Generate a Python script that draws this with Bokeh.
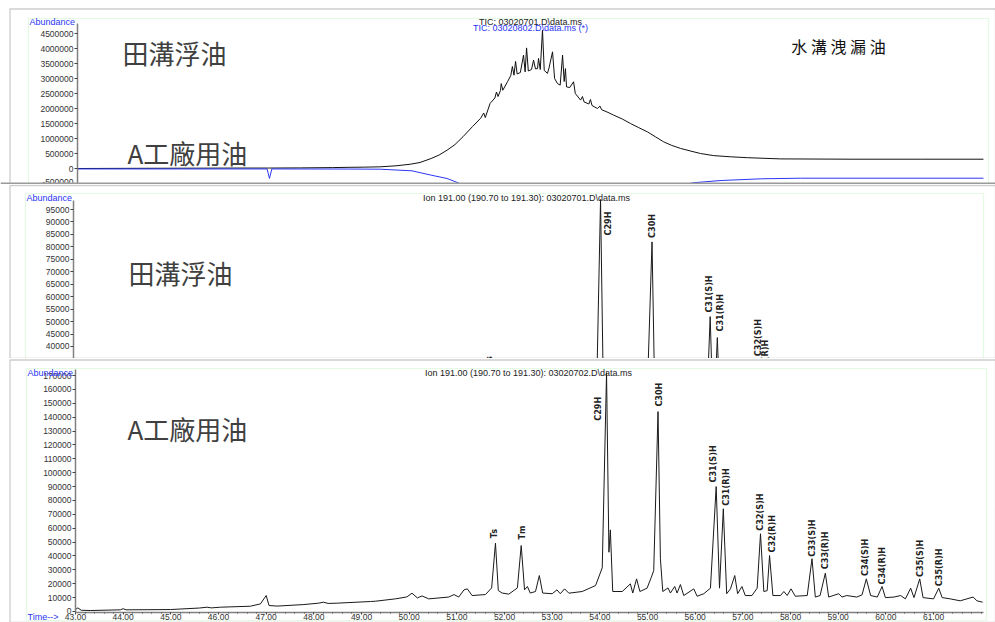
import numpy as np
from bokeh.plotting import figure
from bokeh.models import (LinearAxis, FixedTicker, NumeralTickFormatter, ColumnDataSource,
                          Label, Range1d, SingleIntervalTicker, BoxAnnotation, Span)
from bokeh.layouts import column
from bokeh.core.properties import value
from bokeh.embed import file_html
from bokeh.resources import INLINE

# ---------------- data ----------------
# Panel 1: total ion chromatograms (abundance in thousands)
tic_field_time = [5.0, 8.0, 12.0, 15.0, 17.0, 19.0, 21.0, 22.1, 23.0, 24.0, 25.0, 25.9, 26.5, 27.2,
                  27.7, 28.2, 28.7, 29.2, 29.8, 30.3, 30.5, 30.6, 30.9, 31.2, 31.3, 31.4, 31.55, 31.6,
                  31.7, 32.0, 32.2, 32.3, 32.4, 32.5, 32.6, 32.8, 33.0, 33.1, 33.19, 33.3, 33.5, 33.63,
                  33.75, 33.88, 33.94, 34.05, 34.19, 34.3, 34.5, 34.6, 34.82, 34.95, 35.13, 35.3, 35.45,
                  35.55, 35.63, 35.7, 35.9, 36.14, 36.25, 36.58, 36.7, 36.8, 37.1, 37.2, 37.3, 37.64,
                  37.8, 37.9, 38.3, 38.65, 39.2, 39.71, 40.2, 40.78, 41.3, 41.79, 42.3, 42.85, 43.5,
                  44.11, 44.92, 46.0, 47.06, 49.13, 53.5, 58.0, 61.87]
tic_field_k = [0, 5, 10, 15, 15, 20, 30, 40, 45, 56, 90, 143, 200, 333,
               450, 610, 800, 1060, 1400, 1670, 1850, 1700, 2170, 2350, 2550, 2400, 2600, 2830,
               2610, 2900, 3100, 3400, 3110, 3570, 3150, 3200, 3780, 3220, 4020, 3250, 3300, 3610,
               3320, 3330, 3670, 3300, 4610, 3270, 3170, 3350, 3890, 3000, 2830, 2780, 3780,
               2900, 3330, 2720, 2700, 2890, 2500, 2280, 2400, 2220, 2150, 2300, 2100, 2000,
               2080, 1960, 1870, 1780, 1650, 1500, 1370, 1220, 1050, 890, 770, 670, 580,
               500, 430, 390, 360, 320, 310, 310, 310]
tic_factory_time = [5.0, 12.0, 16.9, 17.05, 17.2, 22.0, 24.0, 26.0, 27.2, 28.2, 28.9, 30.0, 32.0,
                    35.0, 38.0, 40.0, 42.0, 43.6, 45.4, 47.9, 50.4, 61.87]
tic_factory_k = [-15, -15, -15, -330, -15, -18, -23, -78, -222, -333, -478, -750, -1100,
                 -1300, -1200, -1000, -700, -478, -400, -344, -323, -323]

# Panel 2: ion 191 of the field (ditch) oil
ion_field_time = [43.0, 47.0, 48.0, 50.05, 51.15, 51.7, 51.81, 51.88, 52.28, 52.35, 52.43, 52.73, 53.5,
                  54.0, 54.05, 54.14, 54.2, 54.22, 54.28, 55.1, 55.22, 55.28, 55.33, 56.35, 56.44,
                  56.51, 56.59, 56.66, 56.83, 56.9, 57.37, 57.44, 57.56, 57.65, 58.45, 58.53, 58.73,
                  58.8, 59.59, 59.67, 59.92, 60.0, 60.71, 60.78, 61.11, 61.2, 62.03]
ion_field_abund = [2000, 4000, 3000, 6000, 7000, 6000, 30800, 6000, 6000, 26000, 6000, 10000, 6500,
                   9000, 15000, 99000, 20000, 28000, 6500, 9000, 82000, 17000, 6500, 7000, 52000,
                   7000, 43600, 6000, 10000, 6000, 34500, 6000, 26000, 5500, 20000, 5500, 15000,
                   5000, 12000, 5000, 9000, 4500, 8000, 4500, 6000, 4000, 3500]

# Panel 3: ion 191 of factory A oil
ion_factory_time = [43.00, 43.05, 43.12, 43.31, 43.94, 44.00, 44.06, 44.99, 45.60, 45.76, 45.85, 46.04,
                    46.67, 46.88, 47.00, 47.06, 47.23, 47.79, 48.10, 48.20, 48.30, 48.49, 49.19, 49.29,
                    49.71, 49.95, 50.06, 50.17, 50.27, 50.41, 50.83, 50.94, 51.04, 51.15, 51.22, 51.32,
                    51.60, 51.73, 51.81, 51.87, 51.95, 52.09, 52.27, 52.35, 52.42, 52.48, 52.54, 52.65,
                    52.73, 52.80, 53.00, 53.10, 53.17, 53.26, 53.35, 53.63, 53.91, 54.05, 54.14, 54.19,
                    54.22, 54.27, 54.47, 54.64, 54.69, 54.77, 54.84, 54.99, 55.08, 55.13, 55.22, 55.27,
                    55.32, 55.43, 55.48, 55.57, 55.62, 55.69, 55.76, 55.97, 56.04, 56.18, 56.32, 56.44,
                    56.51, 56.59, 56.66, 56.74, 56.83, 56.89, 56.98, 57.05, 57.19, 57.30, 57.37, 57.44,
                    57.51, 57.56, 57.63, 57.79, 57.86, 57.93, 58.01, 58.10, 58.35, 58.45, 58.52, 58.62,
                    58.73, 58.80, 59.01, 59.08, 59.18, 59.39, 59.50, 59.59, 59.68, 59.82, 59.92, 59.99,
                    60.17, 60.31, 60.41, 60.52, 60.59, 60.71, 60.78, 61.00, 61.11, 61.18, 61.35, 61.56,
                    61.83, 61.91, 62.03]
ion_factory_abund = [1500, 2600, 900, 700, 1200, 2000, 1200, 1400, 2500, 3100, 2600, 3100,
                     3800, 5500, 11500, 4300, 3900, 5000, 6000, 6700, 5800, 6000, 7200, 7400,
                     9100, 10500, 13200, 9800, 11200, 9100, 10400, 12200, 10400, 15600, 16300, 11500,
                     12200, 17000, 49200, 15100, 13300, 12500, 17000, 47500, 15600, 18000, 13300, 14400,
                     25900, 13300, 12800, 15600, 12800, 16300, 13200, 14400, 18700, 31500, 172000, 42700,
                     58800, 14400, 14400, 19900, 13300, 23500, 14400, 16800, 24700, 29500, 144000, 38000,
                     14400, 17000, 13300, 18000, 13300, 19400, 11500, 16300, 11000, 12800, 16800, 90000,
                     16800, 74000, 12800, 16300, 25900, 12800, 18000, 11500, 11500, 16800, 56000, 14400,
                     15000, 40300, 11500, 11500, 14400, 11500, 16300, 11000, 11500, 38000, 10400, 11500,
                     27600, 10400, 12800, 10400, 11500, 10400, 12000, 23500, 11500, 10400, 18000, 10000,
                     10400, 11500, 9100, 16800, 10000, 23500, 10000, 9100, 16800, 10000, 9100, 7700,
                     10400, 7700, 6700]

peak_names = ["Ts", "Tm", "C29H", "C30H", "C31(S)H", "C31(R)H", "C32(S)H", "C32(R)H",
              "C33(S)H", "C33(R)H", "C34(S)H", "C34(R)H", "C35(S)H", "C35(R)H"]
peak_times = [51.81, 52.35, 54.14, 55.22, 56.44, 56.59, 57.37, 57.56,
              58.45, 58.73, 59.59, 59.92, 60.71, 61.11]
field_peak_heights = [30800, 26000, 99000, 82000, 52000, 43600, 34500, 26000,
                      20000, 15000, 12000, 9000, 8000, 6000]
factory_peak_heights = [49200, 47500, 172000, 144000, 90000, 74000, 56000, 40300,
                        38000, 27600, 23500, 18000, 23500, 16800]

time_ticks = list(range(43, 62))

# ---------------- styles ----------------
FIG_W = 995
CJK = "Noto Sans CJK TC"
SANS = "Liberation Sans"
NARROW = "'Liberation Sans Narrow', 'DejaVu Sans Condensed', 'Liberation Sans', sans-serif"
BLUE = "#2b35f5"
GREEN = "#a3eea3"
DARK = "#5a5a5a"
SMALL = "9px"
TICK = "8.5px"

# which labels of the upper ion panel reach into its visible window
field_label_shown = [True, False, True, True, True, True, True, True,
                     False, False, False, False, False, False]
field_dx = [0, 0, 7, 0, -1, 3, 3, 1, 0, 0, 0, 0, 0, 0]
field_dy = [-4, -4, 36, -4, -4, -6, -4, -4, -4, -4, -4, -4, -4, -4]
factory_dx = [-1, 1, -9, 1, -3, 3, -1, 2, 0, 0, -1, 0, 0, 0]
factory_dy = [-5, -6, 48, -5, -4, -3, -3, -3, -2, -4, -3, -2, -2, -2]


def base_fig(height, xr, yr):
    p = figure(width=FIG_W, height=height, x_range=Range1d(*xr), y_range=Range1d(*yr),
               output_backend="svg", toolbar_location=None,
               x_axis_location=None, y_axis_location=None,
               min_border_left=0, min_border_right=0, min_border_top=0, min_border_bottom=0)
    p.grid.visible = False
    p.outline_line_color = None
    p.border_fill_color = "white"
    p.background_fill_color = "white"
    return p


def frame_decor(p, left, right, top, bottom, edge_x, edge_y, sep_y=None):
    # light green image box
    p.add_layout(BoxAnnotation(left=left, right=right, top=top, bottom=bottom,
                               fill_alpha=0, line_color=GREEN, line_width=1.2, level="underlay"))
    # dark edges of the pasted picture
    p.add_layout(BoxAnnotation(left=edge_x, right=None, top=edge_y, bottom=None,
                               fill_alpha=0, line_color=DARK, line_width=1.3, level="underlay"))
    if sep_y is not None:
        p.add_layout(Span(location=sep_y, dimension="width", line_color="#9a9a9a", line_width=2))


def style_axis(ax):
    ax.axis_line_color = "#808080"
    ax.axis_line_width = 1.5
    ax.major_tick_line_color = "#444444"
    ax.major_tick_out = 3
    ax.major_tick_in = 0
    ax.minor_tick_line_color = "#444444"
    ax.minor_tick_out = 2
    ax.minor_tick_in = 0
    ax.major_label_text_font = SANS
    ax.major_label_text_font_size = TICK
    ax.major_label_text_color = "#333333"
    ax.major_label_standoff = 1


def add_label(p, x, y, text, size, color, font=SANS, align="left"):
    p.add_layout(Label(x=x, y=y, text=text, text_font=font, text_font_size=size,
                       text_color=color, text_align=align, text_baseline="middle"))


def add_peak_labels(p, heights, dx, dy, shown=None):
    idx = [i for i in range(len(peak_names)) if shown is None or shown[i]]
    src = ColumnDataSource(dict(t=[peak_times[i] for i in idx], h=[heights[i] for i in idx],
                                name=[peak_names[i] for i in idx], dx=[dx[i] for i in idx],
                                dy=[dy[i] for i in idx]))
    p.text(x="t", y="h", text="name", source=src, angle=np.pi / 2,
           x_offset="dx", y_offset="dy", text_align="left", text_baseline="middle",
           text_font=value(NARROW), text_font_size="9px", text_font_style="bold",
           text_color="#222222")


# ---------------- panel 1: TIC ----------------
p1 = base_fig(184, (0.1664, 62.627), (-533333, 5600000))
frame_decor(p1, 1.924, 62.19, 5.0e6, None, 0.763, 5.3167e6, sep_y=-500000)
y1 = LinearAxis(fixed_location=5.0, ticker=SingleIntervalTicker(interval=500000, num_minor_ticks=0),
                formatter=NumeralTickFormatter(format="0"), bounds=(-600000, 4830000))
style_axis(y1)
p1.add_layout(y1, "left")
p1.line(tic_field_time, [v * 1000 for v in tic_field_k], line_color="#111111", line_width=1)
p1.line(tic_factory_time, [v * 1000 for v in tic_factory_k], line_color=BLUE, line_width=1)
add_label(p1, 1.99, 4.9e6, "Abundance", SMALL, BLUE)
add_label(p1, 33.44, 4.9e6, "TIC: 03020701.D\\data.ms", SMALL, "#222222", align="center")
add_label(p1, 33.44, 4.683e6, "TIC: 03020802.D\\data.ms (*)", SMALL, BLUE, align="center")
add_label(p1, 7.82, 3.867e6, "田溝浮油", "26px", "#404040", font=CJK)
add_label(p1, 8.14, 0.533e6, "A工廠用油", "26px", "#404040", font=CJK)
add_label(p1, 52.77, 4.067e6, "水 溝 洩 漏 油", "16px", "#111111", font=CJK, align="center")

# ---------------- panel 2: ion 191, field oil ----------------
p2 = base_fig(174, (41.5525, 62.4253), (35176.5, 105037.5))
frame_decor(p2, 42.077, 62.174, 101424, None, 41.752, 104636)
y2 = LinearAxis(fixed_location=43.084, ticker=SingleIntervalTicker(interval=5000, num_minor_ticks=0),
                formatter=NumeralTickFormatter(format="0"), bounds=(30000, 98600))
style_axis(y2)
p2.add_layout(y2, "left")
p2.line(ion_field_time, ion_field_abund, line_color="#1a1a1a", line_width=1)
add_peak_labels(p2, field_peak_heights, field_dx, field_dy, field_label_shown)
add_label(p2, 42.098, 99818, "Abundance", SMALL, BLUE)
add_label(p2, 52.587, 99818, "Ion 191.00 (190.70 to 191.30): 03020701.D\\data.ms", SMALL, "#222222",
          align="center")
add_label(p2, 44.238, 69906, "田溝浮油", "26px", "#404040", font=CJK)

# ---------------- panel 3: ion 191, factory A oil ----------------
p3 = base_fig(264, (41.4267, 62.2997), (-7924, 182246))
frame_decor(p3, 41.972, 62.111, 175042, -6483, 41.626, 181165)
y3 = LinearAxis(fixed_location=43.0, ticker=SingleIntervalTicker(interval=10000, num_minor_ticks=0),
                formatter=NumeralTickFormatter(format="0"), bounds=(-500, 174000))
style_axis(y3)
p3.add_layout(y3, "left")
x3 = LinearAxis(fixed_location=-500,
                ticker=FixedTicker(ticks=time_ticks,
                                   minor_ticks=list(np.round(np.arange(43, 62.01, 0.2), 2))),
                formatter=NumeralTickFormatter(format="0.00"), bounds=(43, 62.05))
style_axis(x3)
x3.major_tick_out = 2
x3.minor_tick_out = 1
x3.major_label_standoff = 0
p3.add_layout(x3, "below")
p3.line(ion_factory_time, ion_factory_abund, line_color="#1a1a1a", line_width=1)
add_peak_labels(p3, factory_peak_heights, factory_dx, factory_dy)
add_label(p3, 41.993, 172161, "Abundance", SMALL, BLUE)
add_label(p3, 52.503, 172161, "Ion 191.00 (190.70 to 191.30): 03020702.D\\data.ms", SMALL, "#222222",
          align="center")
add_label(p3, 44.091, 131462, "A工廠用油", "26px", "#404040", font=CJK)
add_label(p3, 41.993, -4322, "Time-->", SMALL, BLUE)

layout = column(p1, p2, p3, spacing=0)
open("out.html", "w").write(file_html(layout, INLINE))
